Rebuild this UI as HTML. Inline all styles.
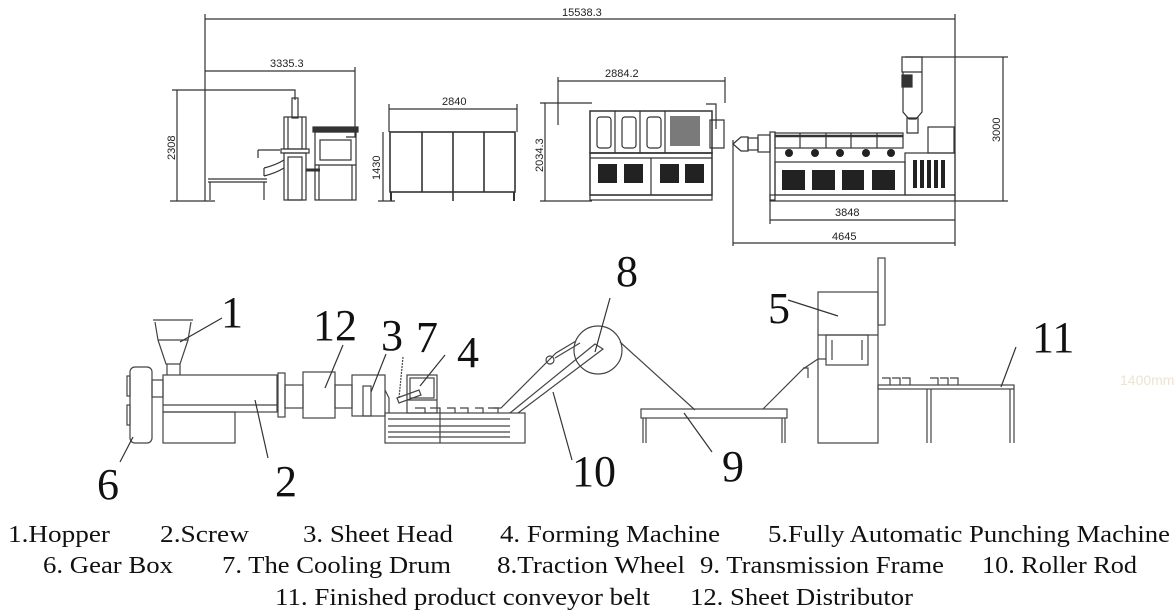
<!DOCTYPE html>
<html><head><meta charset="utf-8"><style>
html,body{margin:0;padding:0;background:#fff;}
svg{display:block;}
.t{font-family:"Liberation Sans",sans-serif;font-size:11px;fill:#222;}
.n{font-family:"Liberation Serif",serif;font-size:44px;fill:#111;}
.l{font-family:"Liberation Serif",serif;font-size:24px;fill:#111;}
</style></head><body>
<svg width="1176" height="612" viewBox="0 0 1176 612" xmlns="http://www.w3.org/2000/svg">
<g fill="none" stroke="#333" stroke-width="1.2">
<!-- top dims -->
<line x1="205" y1="19" x2="955" y2="19"/>
<line x1="205" y1="14" x2="205" y2="201"/>
<line x1="955" y1="14" x2="955" y2="246"/>
<line x1="205" y1="71" x2="355" y2="71"/>
<polyline points="355,67 355,137 346,137"/>
<line x1="177" y1="90" x2="177" y2="201"/>
<polyline points="172,90 295,90 295,100"/>
<line x1="170" y1="201" x2="215" y2="201"/>
<!-- machine1 -->
<line x1="208" y1="179" x2="267" y2="179"/><line x1="208" y1="182" x2="267" y2="182"/>
<line x1="210" y1="182" x2="210" y2="200"/><line x1="264" y1="182" x2="264" y2="200"/>
<rect x="292" y="98" width="6" height="20"/>
<rect x="284" y="117" width="22" height="32"/>
<line x1="288" y1="117" x2="288" y2="149"/><line x1="302" y1="117" x2="302" y2="149"/>
<rect x="281" y="149" width="28" height="4"/>
<rect x="284" y="153" width="22" height="47"/>
<rect x="288" y="157" width="14" height="43"/>
<path d="M258,150 L280,150 M258,150 v8 M264,168 q12,-3 20,-8 M264,176 q12,-3 20,-8 M264,168 v8"/>
<rect x="313" y="127" width="45" height="5" fill="#333"/>
<rect x="315" y="132" width="41" height="68"/>
<rect x="320" y="140" width="31" height="20"/>
<line x1="315" y1="165" x2="356" y2="165"/>
<line x1="319" y1="165" x2="319" y2="200"/><line x1="352" y1="165" x2="352" y2="200"/>
<line x1="306" y1="170" x2="320" y2="170" stroke-width="3"/>
<!-- 2840 -->
<line x1="389" y1="109" x2="517" y2="109"/>
<line x1="389" y1="104" x2="389" y2="132"/><line x1="517" y1="104" x2="517" y2="132"/>
<line x1="383" y1="132" x2="383" y2="201"/>
<rect x="390" y="132" width="125" height="60" stroke-width="1.6"/>
<line x1="422" y1="132" x2="422" y2="192" stroke-width="1.6"/><line x1="453" y1="132" x2="453" y2="201" stroke-width="1.6"/><line x1="484" y1="132" x2="484" y2="192" stroke-width="1.6"/>
<line x1="391" y1="192" x2="391" y2="201" stroke-width="2"/><line x1="514" y1="192" x2="514" y2="201" stroke-width="2"/>
<line x1="378" y1="201" x2="395" y2="201"/>
<!-- machine3 -->
<line x1="558" y1="81" x2="725" y2="81"/><line x1="558" y1="77" x2="558" y2="125"/><line x1="725" y1="77" x2="725" y2="103"/>
<line x1="545" y1="103" x2="545" y2="201"/><line x1="540" y1="103" x2="592" y2="103"/><line x1="540" y1="201" x2="592" y2="201"/>
<rect x="590" y="111" width="122" height="42" stroke-width="1.5"/>
<line x1="615" y1="111" x2="615" y2="153"/><line x1="640" y1="111" x2="640" y2="153"/><line x1="665" y1="111" x2="665" y2="153"/>
<rect x="597" y="117" width="14" height="31" rx="3"/><rect x="622" y="117" width="14" height="31" rx="3"/><rect x="647" y="117" width="14" height="31" rx="3"/>
<rect x="590" y="153" width="122" height="42" stroke-width="1.5"/>
<line x1="590" y1="158" x2="712" y2="158"/><line x1="651" y1="158" x2="651" y2="195"/>
<rect x="590" y="195" width="122" height="5"/>
<path d="M706,104 h10 v25 M710,120 h14 v28 h-14 z"/>
<!-- extruder -->
<line x1="733" y1="140" x2="733" y2="246"/>
<line x1="770" y1="200" x2="770" y2="224"/>
<line x1="770" y1="220" x2="955" y2="220"/>
<line x1="733" y1="243" x2="955" y2="243"/>
<line x1="1003" y1="57" x2="1003" y2="201"/>
<line x1="905" y1="57" x2="1008" y2="57"/><line x1="955" y1="201" x2="1008" y2="201"/>
<path d="M733,144 L741,137 L748,137 L748,151 L741,151 Z"/>
<rect x="748" y="138" width="10" height="12"/><rect x="758" y="135" width="12" height="17"/>
<rect x="770" y="132" width="5" height="68"/>
<rect x="775" y="133" width="128" height="15"/>
<line x1="775" y1="136" x2="903" y2="136" stroke-width="2.5"/>
<line x1="800" y1="133" x2="800" y2="148"/><line x1="826" y1="133" x2="826" y2="148"/><line x1="851" y1="133" x2="851" y2="148"/><line x1="877" y1="133" x2="877" y2="148"/>
<rect x="775" y="162" width="130" height="33"/>
<rect x="770" y="195" width="185" height="6"/>
<rect x="905" y="153" width="50" height="42"/>
<rect x="928" y="127" width="26" height="26"/>
<path d="M902,57 h20 v15 h-20 z M903,72 h19 v40 l-6,7 h-7 l-6,-7 z M907,118 h11 v15 h-11 z"/>
<rect x="902" y="75" width="10" height="12" fill="#333"/>
</g>
<g fill="#222">
<rect x="782" y="170" width="23" height="20"/><rect x="812" y="170" width="23" height="20"/><rect x="842" y="170" width="22" height="20"/><rect x="872" y="170" width="23" height="20"/>
<rect x="913" y="160" width="4" height="28"/><rect x="920" y="160" width="4" height="28"/><rect x="927" y="160" width="4" height="28"/><rect x="934" y="160" width="4" height="28"/><rect x="941" y="160" width="4" height="28"/>
<circle cx="789" cy="153" r="4"/><circle cx="815" cy="153" r="4"/><circle cx="840" cy="153" r="4"/><circle cx="866" cy="153" r="4"/><circle cx="891" cy="153" r="4"/>
<rect x="598" y="164" width="19" height="19"/><rect x="624" y="164" width="19" height="19"/><rect x="660" y="164" width="19" height="19"/><rect x="685" y="164" width="19" height="19"/>
<rect x="670" y="116" width="30" height="30" opacity="0.6"/>
</g>
<text class="t" x="562" y="16">15538.3</text>
<text class="t" x="270" y="67">3335.3</text>
<text class="t" x="442" y="105">2840</text>
<text class="t" x="605" y="77">2884.2</text>
<text class="t" x="835" y="216">3848</text>
<text class="t" x="832" y="240">4645</text>
<text class="t" transform="translate(175,160) rotate(-90)">2308</text>
<text class="t" transform="translate(380,180) rotate(-90)">1430</text>
<text class="t" transform="translate(543,172) rotate(-90)">2034.3</text>
<text class="t" transform="translate(1000,142) rotate(-90)">3000</text>

<!-- bottom schematic -->
<g fill="none" stroke="#444" stroke-width="1.2">
<rect x="130" y="367" width="22" height="76" rx="5"/>
<rect x="127" y="376" width="3" height="20"/><rect x="127" y="405" width="3" height="20"/>
<rect x="152" y="380" width="11" height="17"/>
<rect x="163" y="375" width="114" height="37"/><line x1="163" y1="405" x2="277" y2="405"/>
<rect x="163" y="412" width="72" height="31"/>
<path d="M153,320 h40 M155,322 l3,18 h30 l3,-18 M158,340 L166,364 h14 l8,-24 M167,364 v11 M180,364 v11"/>
<rect x="278" y="373" width="7" height="44"/>
<rect x="285" y="385" width="18" height="23"/>
<rect x="303" y="372" width="32" height="46"/>
<rect x="335" y="385" width="17" height="23"/>
<rect x="352" y="375" width="33" height="41"/><rect x="363" y="386" width="8" height="30"/>
<path d="M385,390 l4,8 v15"/>
<rect x="407" y="375" width="30" height="38"/><line x1="407" y1="400" x2="437" y2="400"/><rect x="410" y="378" width="24" height="20"/>
<rect x="385" y="413" width="140" height="30"/>
<line x1="388" y1="419" x2="510" y2="419"/><line x1="388" y1="426" x2="510" y2="426"/><line x1="388" y1="432" x2="510" y2="432"/><line x1="388" y1="437" x2="510" y2="437"/>
<line x1="440" y1="413" x2="440" y2="443"/>
<path d="M397,398 l22,-8 l2,5 l-22,8 z"/>
<line x1="403" y1="357" x2="399" y2="398" stroke-dasharray="2,1"/>
<path d="M415,408 h10 v5 M430,408 h10 v5 M447,408 h8 v5 M460,408 h8 v5 M475,408 h8 v5 M488,408 h10 v5"/>
<path d="M493,408 h8 l55,-55 l20,-12 M510,413 L595,344 l8,5 l-85,64"/>
<circle cx="550" cy="360" r="4"/>
<path d="M555,358 l25,-15"/>
<circle cx="598" cy="350" r="24"/>
<path d="M620,342 L695,410 M763,409 l40,-40 l15,-10 h8"/>
<path d="M803,368 h5 v10"/>
<rect x="641" y="409" width="146" height="9"/>
<path d="M643,418 v25 M785,418 v25 M646,418 v25 M782,418 v25"/>
<rect x="818" y="292" width="60" height="151"/>
<rect x="878" y="258" width="7" height="67"/>
<line x1="818" y1="335" x2="878" y2="335"/>
<rect x="826" y="335" width="42" height="30"/><line x1="832" y1="340" x2="832" y2="360"/><line x1="862" y1="340" x2="862" y2="360"/>
<rect x="878" y="385" width="136" height="4"/>
<path d="M927,389 v54 M931,389 v54 M1010,389 v54 M1014,389 v54"/>
<path d="M882,378 h8 v7 M892,378 h8 v7 M902,378 h8 v7 M930,378 h8 v7 M940,378 h8 v7 M950,378 h8 v7"/>
</g>
<g stroke="#333" stroke-width="1.2">
<line x1="180" y1="342" x2="222" y2="318"/>
<line x1="255" y1="400" x2="268" y2="458"/>
<line x1="133" y1="437" x2="120" y2="462"/>
<line x1="325" y1="388" x2="343" y2="345"/>
<line x1="371" y1="392" x2="386" y2="354"/>
<line x1="420" y1="386" x2="445" y2="355"/>
<line x1="595" y1="352" x2="610" y2="298"/>
<line x1="553" y1="392" x2="572" y2="460"/>
<line x1="684" y1="413" x2="712" y2="452"/>
<line x1="788" y1="300" x2="838" y2="316"/>
<line x1="1001" y1="387" x2="1016" y2="347"/>
</g>
<text class="n" x="221" y="327">1</text>
<text class="n" x="313" y="340">12</text>
<text class="n" x="381" y="350">3</text>
<text class="n" x="416" y="352">7</text>
<text class="n" x="457" y="367">4</text>
<text class="n" x="616" y="286">8</text>
<text class="n" x="572" y="486">10</text>
<text class="n" x="275" y="496">2</text>
<text class="n" x="97" y="499">6</text>
<text class="n" x="768" y="323">5</text>
<text class="n" x="722" y="481">9</text>
<text class="n" x="1032" y="352">11</text>
<text x="1120" y="385" style="font-family:'Liberation Sans',sans-serif;font-size:14px;fill:#ece4d4">1400mm</text>

<text class="l" x="8" y="542" textLength="102" lengthAdjust="spacingAndGlyphs">1.Hopper</text>
<text class="l" x="160" y="542" textLength="89" lengthAdjust="spacingAndGlyphs">2.Screw</text>
<text class="l" x="303" y="542" textLength="150" lengthAdjust="spacingAndGlyphs">3. Sheet Head</text>
<text class="l" x="500" y="542" textLength="220" lengthAdjust="spacingAndGlyphs">4. Forming Machine</text>
<text class="l" x="768" y="542" textLength="402" lengthAdjust="spacingAndGlyphs">5.Fully Automatic Punching Machine</text>
<text class="l" x="43" y="573" textLength="130" lengthAdjust="spacingAndGlyphs">6. Gear Box</text>
<text class="l" x="222" y="573" textLength="229" lengthAdjust="spacingAndGlyphs">7. The Cooling Drum</text>
<text class="l" x="497" y="573" textLength="188" lengthAdjust="spacingAndGlyphs">8.Traction Wheel</text>
<text class="l" x="700" y="573" textLength="244" lengthAdjust="spacingAndGlyphs">9. Transmission Frame</text>
<text class="l" x="982" y="573" textLength="155" lengthAdjust="spacingAndGlyphs">10. Roller Rod</text>
<text class="l" x="275" y="605" textLength="375" lengthAdjust="spacingAndGlyphs">11. Finished product conveyor belt</text>
<text class="l" x="690" y="605" textLength="223" lengthAdjust="spacingAndGlyphs">12. Sheet Distributor</text>
</svg>
</body></html>
